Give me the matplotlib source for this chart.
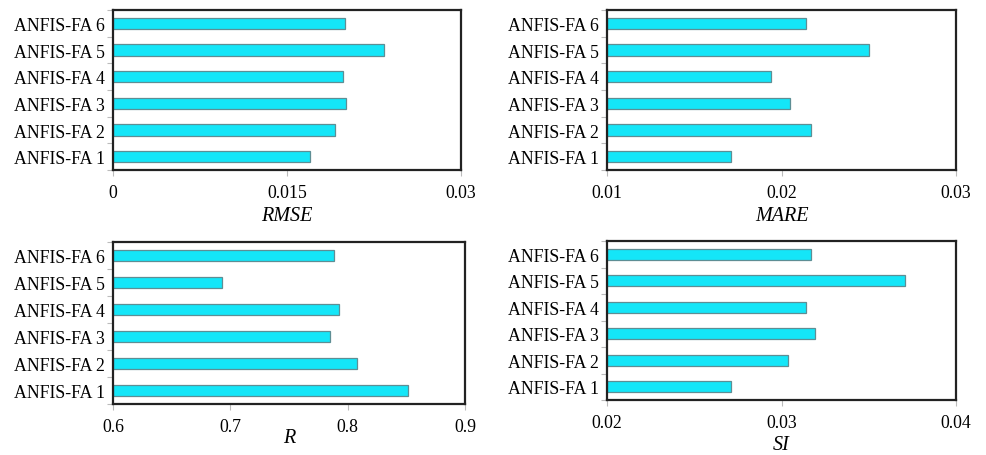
import matplotlib
matplotlib.use("Agg")
import matplotlib.pyplot as plt
import numpy as np

categories = ["ANFIS-FA 1", "ANFIS-FA 2", "ANFIS-FA 3", "ANFIS-FA 4", "ANFIS-FA 5", "ANFIS-FA 6"]
rmse = [0.0170, 0.0191, 0.0201, 0.0198, 0.0234, 0.0200]
mare = [0.0171, 0.0217, 0.0205, 0.0194, 0.0250, 0.0214]
r_vals = [0.851, 0.808, 0.785, 0.793, 0.693, 0.788]
si = [0.0271, 0.0304, 0.0319, 0.0314, 0.0371, 0.0317]

panels = [
    (rmse, "RMSE", (0, 0.03), [0, 0.015, 0.03], ["0", "0.015", "0.03"]),
    (mare, "MARE", (0.01, 0.03), [0.01, 0.02, 0.03], ["0.01", "0.02", "0.03"]),
    (r_vals, "R", (0.6, 0.9), [0.6, 0.7, 0.8, 0.9], ["0.6", "0.7", "0.8", "0.9"]),
    (si, "SI", (0.02, 0.04), [0.02, 0.03, 0.04], ["0.02", "0.03", "0.04"]),
]

W, H = 986, 456
# axes boxes in pixels: left, right, top, bottom
boxes = [
    (113, 461, 11, 171),
    (607, 956, 11, 171),
    (113, 465, 243, 405),
    (607, 956, 242, 401),
]
labelpads = [4, 4, -5, 3]

plt.rcParams['font.family'] = ['Liberation Serif', 'DejaVu Serif']

fig = plt.figure(figsize=(W / 100, H / 100), dpi=100)

for (vals, label, xlim, ticks, ticklabels), (l, r, t, b), lp in zip(panels, boxes, labelpads):
    ax = fig.add_axes([l / W, 1 - b / H, (r - l) / W, (b - t) / H])
    y = np.arange(len(categories))
    ax.barh(y, [v - xlim[0] for v in vals], left=xlim[0], height=0.42,
            color="#14E6F8", edgecolor="#5E8E94", linewidth=0.9)
    ax.set_xlim(*xlim)
    ax.set_ylim(-0.5, len(categories) - 0.5)
    ax.set_yticks(y)
    ax.set_yticklabels(categories, fontsize=12.8)
    ax.set_yticks(np.arange(-0.5, len(categories), 1.0), minor=True)
    ax.tick_params(axis="y", which="major", length=0, pad=6)
    ax.tick_params(axis="y", which="minor", length=4, color="#BBBBBB", width=0.8)
    ax.set_xticks(ticks)
    ax.set_xticklabels(ticklabels, fontsize=12.8)
    ax.tick_params(axis="x", length=4, color="#BBBBBB", width=0.8, pad=6)
    for s in ax.spines.values():
        s.set_linewidth(1.6)
        s.set_color("#222222")
    ax.set_xlabel(label, fontsize=14.5, fontstyle="italic", labelpad=lp)

fig.savefig("out.png", dpi=100)
